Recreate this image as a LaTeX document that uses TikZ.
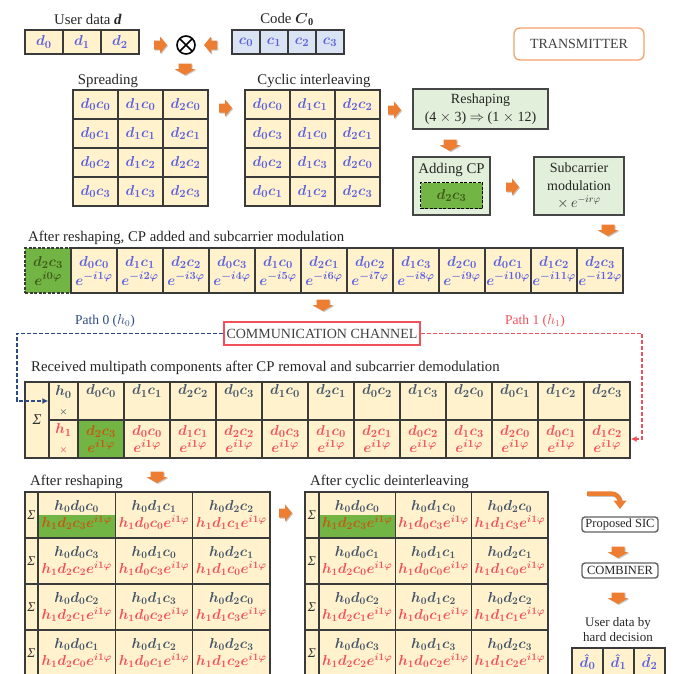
\documentclass[tikz,border=0pt]{standalone}
\usepackage{amsmath}
\usepackage{fontspec}
\setmainfont{Liberation Serif}
\usetikzlibrary{calc,arrows.meta}
\definecolor{cellY}{HTML}{FFF2CC}
\definecolor{cellB}{HTML}{DAE3F3}
\definecolor{boxG}{HTML}{E2EFDA}
\definecolor{gcell}{HTML}{72B545}
\definecolor{bord}{HTML}{3A3A3A}
\definecolor{dblue}{HTML}{5B5FE0}
\definecolor{slate}{HTML}{44546A}
\definecolor{rred}{HTML}{F2505A}
\definecolor{oarr}{HTML}{ED7D31}
\definecolor{tborder}{HTML}{F4A36A}
\definecolor{gtext}{HTML}{3F5A1A}
\definecolor{btext}{HTML}{C55A11}
\definecolor{navy}{HTML}{2E4A86}
\tikzset{
  lab/.style={font=\fontsize{14.8}{16}\selectfont, text=black!85, inner sep=0pt},
  cellbox/.style={draw=bord, line width=1.3pt, fill=cellY, inner sep=0pt, align=center,
     font=\fontsize{15}{17}\selectfont\boldmath, text=dblue},
  bigcell/.style={cellbox, minimum height=46pt, text=slate, font=\fontsize{14}{16}\selectfont\boldmath},
  greenbox/.style={draw=gray!55!black, line width=1.8pt, fill=boxG, inner sep=0pt, align=center,
     font=\fontsize{14}{17.5}\selectfont, text=black!85},
  smallbox/.style={draw=bord!80, line width=1.4pt, rounded corners=3pt, fill=white, inner sep=0pt,
     font=\fontsize{12.5}{14}\selectfont, text=black!85},
  rarr/.pic={\fill[black!22, shift={(1,1)}] (-6,-4.5)--(0,-4.5)--(0,-8.5)--(7,0)--(0,8.5)--(0,4.5)--(-6,4.5)--cycle;
             \fill[oarr] (-6,-4.5)--(0,-4.5)--(0,-8.5)--(7,0)--(0,8.5)--(0,4.5)--(-6,4.5)--cycle;},
  larr/.pic={\fill[black!22, shift={(1,1)}] (6,-4.5)--(0,-4.5)--(0,-8.5)--(-7,0)--(0,8.5)--(0,4.5)--(6,4.5)--cycle;
             \fill[oarr] (6,-4.5)--(0,-4.5)--(0,-8.5)--(-7,0)--(0,8.5)--(0,4.5)--(6,4.5)--cycle;},
  darr/.pic={\fill[black!22, shift={(1,1)}] (-6.5,-5.5)--(6.5,-5.5)--(6.5,0)--(10.5,0)--(0,6)--(-10.5,0)--(-6.5,0)--cycle;
             \fill[oarr] (-6.5,-5.5)--(6.5,-5.5)--(6.5,0)--(10.5,0)--(0,6)--(-10.5,0)--(-6.5,0)--cycle;},
  pathline/.style={dashed, dash pattern=on 4pt off 2pt, line width=1.5pt, -{Latex[length=6pt,width=6pt]}},
  greenhalf/.style={path picture={\fill[gcell] (path picture bounding box.west) rectangle (path picture bounding box.south east);}},
}
\begin{document}
\begin{tikzpicture}[x=1pt,y=-1pt]
\clip (0,0) rectangle (682,673);
\fill[white] (0,0) rectangle (682,673);

% ---------- top: user data and code
\node[lab] (ulab) at (88,19) {User data \textbf{\textit{d}}};
\foreach \i in {0,1,2}
  \node[cellbox, minimum width=38pt, minimum height=24pt] (ud-\i) at ({44+38*\i},42) {$d_{\i}$};
\node[lab] (clab) at (287,19) {Code $\boldsymbol{C}_{\mathbf{0}}$};
\foreach \i in {0,...,3}
  \node[cellbox, fill=cellB, minimum width=28pt, minimum height=24pt] (cd-\i) at ({246+28*\i},42) {$c_{\i}$};
\node[circle, draw, line width=1.6pt, minimum size=18pt, inner sep=0pt,
  path picture={\draw[line width=1.6pt] (path picture bounding box.north west)--(path picture bounding box.south east)
     (path picture bounding box.north east)--(path picture bounding box.south west);}] (mul) at (186,45) {};
\pic at (160,45) {rarr};
\pic at (211,45) {larr};
\pic at (185,69) {darr};

\node[lab, draw=tborder, line width=1.3pt, rounded corners=6pt, minimum width=130pt, minimum height=32pt,
  font=\fontsize{14}{15}\selectfont, text=black!75] (tx) at (579,44) {TRANSMITTER};

% ---------- spreading
\node[lab] (splab) at (108,81) {Spreading};
\foreach \r in {0,...,3}
  \foreach \c in {0,1,2}
    \node[cellbox, minimum width=45pt, minimum height=29pt] (sp-\r-\c) at ({95.5+45*\c},{104.5+29*\r}) {$d_{\c}c_{\r}$};
\pic at (225,108) {rarr};

% ---------- cyclic interleaving
\node[lab] (cilab) at (314,81) {Cyclic interleaving};
\foreach \r/\a/\b/\cc in {0/0/1/2, 1/3/0/1, 2/2/3/0, 3/1/2/3} {
  \node[cellbox, minimum width=45pt, minimum height=29pt] (ci-\r-0) at (267.5,{104.5+29*\r}) {$d_{0}c_{\a}$};
  \node[cellbox, minimum width=45pt, minimum height=29pt] (ci-\r-1) at (312.5,{104.5+29*\r}) {$d_{1}c_{\b}$};
  \node[cellbox, minimum width=45pt, minimum height=29pt] (ci-\r-2) at (357.5,{104.5+29*\r}) {$d_{2}c_{\cc}$};
}
\pic at (394,110) {rarr};

% ---------- reshaping, CP, subcarrier
\node[greenbox, minimum width=135pt, minimum height=40pt] (resh) at (480.5,109)
  {Reshaping\\(4 $\times$ 3) $\Rightarrow$ (1 $\times$ 12)};
\pic at (450,145) {darr};
\node[greenbox, minimum width=77pt, minimum height=58pt] (cp) at (451.5,186) {};
\node[lab] (cplab) at (451.5,170) {Adding CP};
\node[draw=black, dashed, dash pattern=on 3pt off 1.5pt, line width=1.5pt, fill=gcell, minimum width=62pt, minimum height=26pt,
  inner sep=0pt, font=\fontsize{15}{17}\selectfont\boldmath, text=gtext] (cpin) at (451.5,195.5) {$d_2c_3$};
\pic at (512,187) {rarr};
\node[greenbox, minimum width=90pt, minimum height=58pt] (subm) at (579,186)
  {Subcarrier\\modulation\\$\times\,e^{-ir\varphi}$};
\pic at (608,230) {darr};

% ---------- transmitted row
\node[lab, anchor=west] (txlab) at (28,238) {After reshaping, CP added and subcarrier modulation};
\node[cellbox, fill=gcell, dashed, dash pattern=on 3pt off 1.5pt, minimum width=46pt, minimum height=45pt, text=gtext]
  (tx-0) at (48,270.5) {$d_2c_3$\\[2pt]$e^{i0\varphi}$};
\foreach \k/\dd/\cc in {1/0/0,2/1/1,3/2/2,4/0/3,5/1/0,6/2/1,7/0/2,8/1/3,9/2/0,10/0/1,11/1/2,12/2/3}
  \node[cellbox, minimum width=46pt, minimum height=45pt] (tx-\k) at ({48+46*\k},270.5) {$d_{\dd}c_{\cc}$\\[2pt]$e^{-i\k\varphi}$};
\pic at (323,305) {darr};

% ---------- channel
\node[lab, draw=rred, line width=1.5pt, fill=white, minimum width=196pt, minimum height=23pt,
  font=\fontsize{14}{15}\selectfont, text=black!75] (chan) at (322,333.5) {COMMUNICATION CHANNEL};
\node[lab, text=navy, font=\fontsize{13.5}{15}\selectfont] (p0lab) at (105,321) {Path 0 ($h_0$)};
\node[lab, text=rred, font=\fontsize{13.5}{15}\selectfont] (p1lab) at (535,321) {Path 1 ($h_1$)};

% ---------- received multipath
\node[lab, anchor=west] (rxlab) at (31,368) {Received multipath components after CP removal and subcarrier demodulation};
\node[cellbox, minimum width=24pt, minimum height=76pt, text=black!80, font=\fontsize{15}{16}\selectfont\itshape] (sig) at (37,420) {Σ};
\node[cellbox, minimum width=29pt, minimum height=38pt, text=slate] (hc-1) at (63.5,401) {$h_0$\\[2pt]{\small$\times$}};
\node[cellbox, minimum width=29pt, minimum height=38pt, text=rred] (hc-2) at (63.5,439) {$h_1$\\[2pt]{\small$\times$}};
\foreach \k/\dd/\cc in {1/0/0,2/1/1,3/2/2,4/0/3,5/1/0,6/2/1,7/0/2,8/1/3,9/2/0,10/0/1,11/1/2,12/2/3}
  \node[cellbox, minimum width=46pt, minimum height=38pt, text=slate] (ma-\k) at ({101+46*(\k-1)},401) {$d_{\dd}c_{\cc}$\\\strut};
\node[cellbox, fill=gcell, minimum width=46pt, minimum height=38pt, text=btext] (mb-1) at (101,439) {$d_2c_3$\\$e^{i1\varphi}$};
\foreach \k/\dd/\cc in {2/0/0,3/1/1,4/2/2,5/0/3,6/1/0,7/2/1,8/0/2,9/1/3,10/2/0,11/0/1,12/1/2}
  \node[cellbox, minimum width=46pt, minimum height=38pt, text=rred] (mb-\k) at ({101+46*(\k-1)},439) {$d_{\dd}c_{\cc}$\\$e^{i1\varphi}$};

\coordinate (p0) at (17,401);
\coordinate (p1) at (642,439);
\draw[pathline, navy] (chan.west) -| (p0) -- (hc-1.west);
\draw[pathline, rred] (chan.east) -| (p1) -- (mb-12.east);

% ---------- after reshaping
\pic at (157,477) {darr};
\node[lab, anchor=west] (arlab) at (30,482) {After reshaping};
\foreach \r/\y/\xa/\xb/\xc/\za/\zb/\zc in {0/515/0/1/2/3/0/1, 1/561/3/0/1/2/3/0, 2/607/2/3/0/1/2/3, 3/653/1/2/3/0/1/2} {
  \node[cellbox, minimum width=13pt, minimum height=46pt, text=black!80, font=\fontsize{13.5}{15}\selectfont\itshape] (ars-\r) at (31.5,\y) {Σ};
  \ifnum\r=0
    \node[bigcell, minimum width=77.33pt, greenhalf] (ar-\r-0) at (76.67,\y)
      {$h_0d_0c_{\xa}$\\[1pt]\textcolor{btext}{$h_1d_2c_{\za}e^{i1\varphi}$}};
  \else
    \node[bigcell, minimum width=77.33pt] (ar-\r-0) at (76.67,\y)
      {$h_0d_0c_{\xa}$\\[1pt]\textcolor{rred}{$h_1d_2c_{\za}e^{i1\varphi}$}};
  \fi
  \node[bigcell, minimum width=77.33pt] (ar-\r-1) at (154,\y)
    {$h_0d_1c_{\xb}$\\[1pt]\textcolor{rred}{$h_1d_0c_{\zb}e^{i1\varphi}$}};
  \node[bigcell, minimum width=77.33pt] (ar-\r-2) at (231.33,\y)
    {$h_0d_2c_{\xc}$\\[1pt]\textcolor{rred}{$h_1d_1c_{\zc}e^{i1\varphi}$}};
}
\pic at (285,513) {rarr};

% ---------- after cyclic deinterleaving
\node[lab, anchor=west] (dilab) at (310,482) {After cyclic deinterleaving};
\foreach \r/\y/\z in {0/515/3, 1/561/0, 2/607/1, 3/653/2} {
  \node[cellbox, minimum width=14pt, minimum height=46pt, text=black!80, font=\fontsize{13.5}{15}\selectfont\itshape] (dis-\r) at (312,\y) {Σ};
  \ifnum\r=0
    \node[bigcell, minimum width=76.33pt, greenhalf] (di-\r-0) at (357.17,\y)
      {$h_0d_0c_{\r}$\\[1pt]\textcolor{btext}{$h_1d_2c_{\z}e^{i1\varphi}$}};
  \else
    \node[bigcell, minimum width=76.33pt] (di-\r-0) at (357.17,\y)
      {$h_0d_0c_{\r}$\\[1pt]\textcolor{rred}{$h_1d_2c_{\z}e^{i1\varphi}$}};
  \fi
  \node[bigcell, minimum width=76.33pt] (di-\r-1) at (433.5,\y)
    {$h_0d_1c_{\r}$\\[1pt]\textcolor{rred}{$h_1d_0c_{\z}e^{i1\varphi}$}};
  \node[bigcell, minimum width=76.33pt] (di-\r-2) at (509.83,\y)
    {$h_0d_2c_{\r}$\\[1pt]\textcolor{rred}{$h_1d_1c_{\z}e^{i1\varphi}$}};
}

% ---------- receiver chain
\draw[black!22, line width=4.5pt] (588,494.5) -- (612,494.5) to[out=0,in=90] (621,503);
\draw[oarr, line width=4.5pt] (587,493.5) -- (611,493.5) to[out=0,in=90] (620,502);
\fill[oarr] (613.5,500.5) -- (626.5,500.5) -- (620,509) -- cycle;
\node[smallbox, minimum width=76pt, minimum height=15pt] (sic) at (620,524.5) {Proposed SIC};
\pic at (618,552) {darr};
\node[smallbox, minimum width=76pt, minimum height=15pt] (comb) at (620,570.5) {COMBINER};
\pic at (618,598) {darr};
\node[lab, align=center, font=\fontsize{13}{15}\selectfont] (udlab) at (618,630) {User data by\\hard decision};
\foreach \i in {0,1,2}
  \node[cellbox, minimum width=31pt, minimum height=28pt] (hd-\i) at ({587.5+31*\i},662) {$\hat{d}_{\i}$};
\end{tikzpicture}
\end{document}
